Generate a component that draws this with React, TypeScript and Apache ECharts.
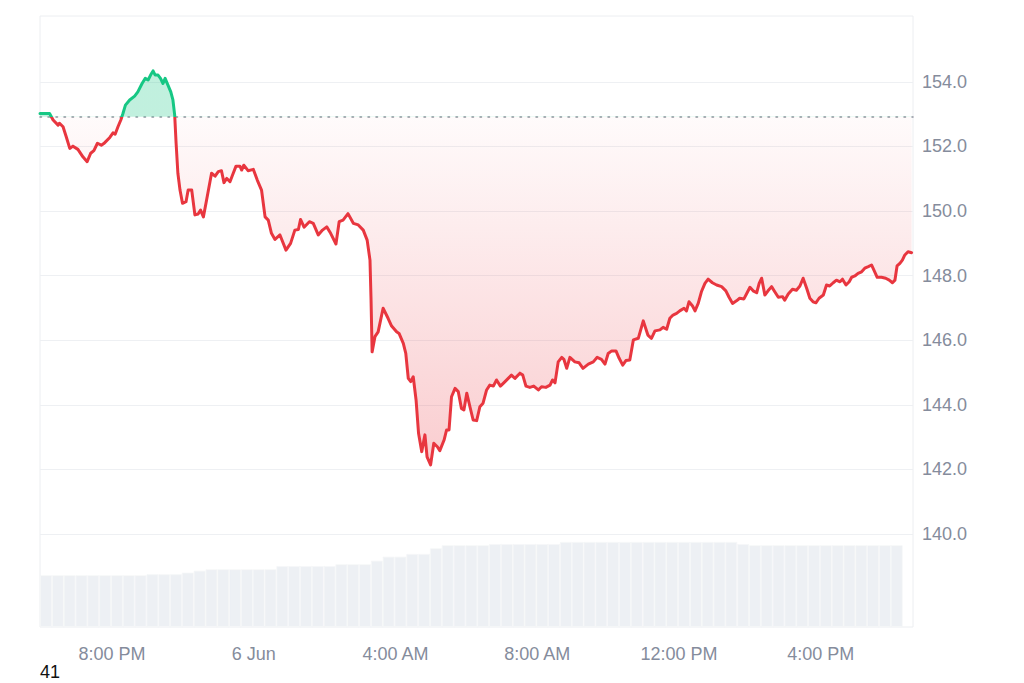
import React, { useEffect, useRef } from 'react';
import * as echarts from 'echarts';

// ---- data ----
const BASELINE = 152.92; // previous close (dotted line)
const X_MIN = 17.97; // hours since 5 Jun 00:00
const X_MAX = 42.6;
const Y_MIN = 137.12;
const Y_MAX = 156.04;

const priceTicks = [140, 142, 144, 146, 148, 150, 152, 154];
const timeTicks = [20, 24, 28, 32, 36, 40];
const timeTickLabels = ['8:00 PM', '6 Jun', '4:00 AM', '8:00 AM', '12:00 PM', '4:00 PM'];

// time of each price point, hours since 5 Jun 00:00
const times = [
  17.97, 18.24, 18.34, 18.48, 18.52, 18.62, 18.71, 18.81, 18.9, 19.04,
  19.18, 19.3, 19.4, 19.49, 19.59, 19.7, 19.79, 19.94, 20.03, 20.09,
  20.17, 20.25, 20.31, 20.38, 20.5, 20.64, 20.73, 20.85, 20.94, 21.02,
  21.09, 21.16, 21.22, 21.3, 21.37, 21.44, 21.5, 21.58, 21.66, 21.72,
  21.77, 21.81, 21.86, 21.92, 21.99, 22.09, 22.15, 22.25, 22.34, 22.43,
  22.5, 22.58, 22.67, 22.81, 22.91, 23.0, 23.09, 23.16, 23.24, 23.33,
  23.4, 23.5, 23.61, 23.66, 23.72, 23.84, 23.99, 24.1, 24.22, 24.32,
  24.41, 24.5, 24.6, 24.74, 24.91, 25.04, 25.16, 25.26, 25.32, 25.42,
  25.57, 25.68, 25.82, 25.94, 26.06, 26.17, 26.32, 26.41, 26.52, 26.66,
  26.81, 26.95, 27.09, 27.2, 27.28, 27.31, 27.34, 27.42, 27.51, 27.65,
  27.79, 27.89, 28.03, 28.1, 28.22, 28.29, 28.36, 28.43, 28.5, 28.58,
  28.65, 28.74, 28.83, 28.89, 28.99, 29.08, 29.18, 29.25, 29.37, 29.44,
  29.51, 29.58, 29.68, 29.77, 29.86, 29.93, 30.01, 30.1, 30.19, 30.29,
  30.38, 30.47, 30.57, 30.66, 30.76, 30.85, 30.96, 31.09, 31.18, 31.27,
  31.37, 31.51, 31.59, 31.68, 31.79, 31.9, 32.03, 32.12, 32.24, 32.36,
  32.43, 32.5, 32.59, 32.69, 32.75, 32.83, 32.92, 33.06, 33.18, 33.29,
  33.44, 33.58, 33.69, 33.81, 33.91, 34.0, 34.1, 34.22, 34.31, 34.41,
  34.5, 34.61, 34.71, 34.85, 34.99, 35.12, 35.22, 35.32, 35.46, 35.55,
  35.65, 35.74, 35.83, 35.93, 36.02, 36.14, 36.21, 36.28, 36.38, 36.45,
  36.54, 36.63, 36.73, 36.82, 36.94, 37.06, 37.2, 37.32, 37.41, 37.51,
  37.62, 37.71, 37.83, 37.92, 38.0, 38.09, 38.19, 38.26, 38.33, 38.42,
  38.51, 38.61, 38.7, 38.8, 38.92, 38.98, 39.08, 39.2, 39.31, 39.41,
  39.5, 39.6, 39.69, 39.78, 39.86, 39.95, 40.07, 40.16, 40.25, 40.35,
  40.44, 40.54, 40.61, 40.71, 40.8, 40.87, 40.96, 41.05, 41.15, 41.24,
  41.34, 41.43, 41.52, 41.59, 41.71, 41.83, 41.93, 42.02, 42.09, 42.15,
  42.23, 42.3, 42.37, 42.46, 42.56,
];

const prices = [
  153.02, 153.02, 152.82, 152.66, 152.72, 152.61, 152.3, 151.94, 152.01, 151.91,
  151.68, 151.53, 151.79, 151.87, 152.1, 152.04, 152.11, 152.28, 152.42, 152.38,
  152.61, 152.82, 153.02, 153.28, 153.44, 153.56, 153.69, 153.95, 154.11, 154.06,
  154.21, 154.34, 154.21, 154.21, 154.11, 153.95, 154.11, 153.9, 153.69, 153.44,
  152.97, 152.1, 151.17, 150.65, 150.24, 150.29, 150.65, 150.65, 149.88, 149.91,
  150.03, 149.82, 150.34, 151.17, 151.08, 151.22, 151.25, 150.88, 151.01, 150.91,
  151.11, 151.39, 151.39, 151.27, 151.42, 151.25, 151.29, 150.96, 150.65, 149.82,
  149.72, 149.31, 149.12, 149.26, 148.79, 149.0, 149.41, 149.43, 149.74, 149.5,
  149.67, 149.62, 149.26, 149.41, 149.51, 149.31, 148.98, 149.67, 149.72, 149.92,
  149.62, 149.57, 149.41, 149.1, 148.48, 147.24, 145.64, 146.11, 146.26, 146.99,
  146.68, 146.44, 146.26, 146.21, 145.9, 145.59, 144.82, 144.72, 144.87, 144.15,
  143.12, 142.55, 143.07, 142.39, 142.14, 142.81, 142.7, 142.58, 142.91, 143.22,
  143.22, 144.25, 144.51, 144.41, 143.89, 143.84, 144.36, 143.94, 143.53, 143.51,
  143.94, 144.05, 144.46, 144.61, 144.58, 144.77, 144.58, 144.72, 144.82, 144.92,
  144.82, 144.98, 144.92, 144.58, 144.54, 144.58, 144.46, 144.56, 144.54, 144.61,
  144.77, 144.68, 145.33, 145.47, 145.41, 145.13, 145.47, 145.33, 145.3, 145.13,
  145.26, 145.33, 145.47, 145.41, 145.26, 145.59, 145.67, 145.67, 145.44, 145.23,
  145.37, 145.39, 146.01, 146.06, 146.6, 146.16, 146.06, 146.29, 146.32, 146.4,
  146.34, 146.68, 146.78, 146.83, 146.91, 146.99, 146.91, 147.19, 147.06, 146.91,
  147.14, 147.5, 147.76, 147.89, 147.78, 147.71, 147.66, 147.53, 147.33, 147.14,
  147.22, 147.3, 147.28, 147.47, 147.64, 147.53, 147.47, 147.76, 147.92, 147.4,
  147.53, 147.66, 147.5, 147.33, 147.35, 147.24, 147.43, 147.58, 147.55, 147.68,
  147.92, 147.61, 147.3, 147.19, 147.16, 147.3, 147.4, 147.71, 147.68, 147.78,
  147.86, 147.81, 147.89, 147.71, 147.81, 147.95, 147.99, 148.07, 148.12, 148.23,
  148.28, 148.33, 148.12, 147.95, 147.95, 147.92, 147.86, 147.78, 147.86, 148.3,
  148.38, 148.48, 148.64, 148.74, 148.71,
];

// volume bars, one every 20 minutes (bar centres, hours since 5 Jun 00:00)
const VOL_START = 18.14;
const VOL_STEP = 1 / 3;
const volumes = [
  8.46, 8.46, 8.46, 8.46, 8.46, 8.46, 8.46, 8.46, 8.46,
  8.63, 8.63, 8.63,
  8.89, 9.21,
  9.44, 9.44, 9.44, 9.44, 9.44, 9.44,
  9.98, 9.98, 9.98, 9.98, 9.98,
  10.26, 10.26, 10.26,
  10.85, 11.51, 11.51, 11.95, 11.95, 12.88,
  13.37, 13.37, 13.37, 13.37,
  13.58, 13.58, 13.58, 13.58, 13.58, 13.58,
  13.91, 13.91, 13.91, 13.91, 13.91, 13.91, 13.91, 13.91, 13.91, 13.91,
  13.91, 13.91, 13.91, 13.91, 13.91,
  13.58,
  13.37, 13.37, 13.37, 13.37, 13.37, 13.37, 13.37, 13.37, 13.37, 13.37,
  13.37, 13.37, 13.37,
];
const VOL_MAX = 100;

const RED = '#e8363f';
const GREEN = '#16c784';
const GRAY = '#858c9c';
const FONT = '"Liberation Sans", Arial, sans-serif';

export default function App() {
  const ref = useRef<HTMLDivElement>(null);

  useEffect(() => {
    if (!ref.current) return;
    const chart = echarts.init(ref.current, null, { renderer: 'svg' });

    // position of the baseline inside the vertical extent of the line / area
    const maxP = Math.max(...prices, BASELINE);
    const minP = Math.min(...prices, BASELINE);
    const f = (maxP - BASELINE) / (maxP - minP);

    const lineGradient = new echarts.graphic.LinearGradient(0, 0, 0, 1, [
      { offset: 0, color: GREEN },
      { offset: f, color: GREEN },
      { offset: f, color: RED },
      { offset: 1, color: RED },
    ]);
    const areaGradient = new echarts.graphic.LinearGradient(0, 0, 0, 1, [
      { offset: 0, color: 'rgba(22,199,132,0.38)' },
      { offset: f, color: 'rgba(22,199,132,0.38)' },
      { offset: f, color: 'rgba(234,57,67,0.03)' },
      { offset: 1, color: 'rgba(234,57,67,0.36)' },
    ]);

    const priceData = times.map((t, i) => [t, prices[i]]);
    const volData = volumes.map((v, i) => [VOL_START + i * VOL_STEP, v]);

    const labelStyle = { color: GRAY, fontSize: 18, fontFamily: FONT };

    // horizontal grid lines with the price labels at their right end
    const gridLines = priceTicks.map((p) => ({
      yAxis: p,
      lineStyle: { color: '#eef0f3', width: 1, type: 'solid' },
      label: {
        show: true,
        position: 'end',
        distance: 9,
        formatter: () => p.toFixed(1),
        ...labelStyle,
      },
    }));

    // transparent vertical lines carrying the time labels below the plot
    const timeMarks = timeTicks.map((t, i) => ({
      xAxis: t,
      lineStyle: { color: 'rgba(0,0,0,0)', width: 1, type: 'solid' },
      label: {
        show: true,
        position: 'start',
        distance: 18,
        formatter: () => timeTickLabels[i],
        ...labelStyle,
      },
    }));

    chart.setOption({
      animation: false,
      grid: {
        left: 40,
        top: 16,
        width: 873,
        height: 611,
        show: true,
        borderColor: '#eceef1',
        borderWidth: 1,
        backgroundColor: 'transparent',
      },
      xAxis: {
        type: 'value',
        min: X_MIN,
        max: X_MAX,
        axisLine: { show: false },
        axisTick: { show: false },
        splitLine: { show: false },
        axisLabel: { show: false },
      },
      yAxis: [
        {
          type: 'value',
          position: 'right',
          min: Y_MIN,
          max: Y_MAX,
          axisLine: { show: false },
          axisTick: { show: false },
          splitLine: { show: false },
          axisLabel: { show: false },
        },
        { type: 'value', min: 0, max: VOL_MAX, show: false },
      ],
      series: [
        {
          type: 'bar',
          xAxisIndex: 0,
          yAxisIndex: 1,
          data: volData,
          barWidth: '100%',
          clip: true,
          itemStyle: { color: '#edf0f4', borderColor: '#f5f6f8', borderWidth: 0.8 },
          silent: true,
          z: 1,
        },
        {
          type: 'line',
          xAxisIndex: 0,
          yAxisIndex: 0,
          data: priceData,
          symbol: 'none',
          smooth: false,
          lineStyle: { width: 3, color: lineGradient, join: 'round', cap: 'round' },
          areaStyle: { origin: BASELINE, color: areaGradient },
          z: 3,
          markLine: {
            silent: true,
            symbol: 'none',
            z: 2,
            animation: false,
            data: [
              ...gridLines,
              ...timeMarks,
              {
                yAxis: BASELINE,
                lineStyle: { color: '#8e949e', width: 1.5, type: [1.5, 6.5], cap: 'round' },
                label: { show: false },
              },
            ],
          },
        },
      ],
      graphic: [
        {
          type: 'text',
          left: 40,
          top: 663,
          style: { text: '41', fill: '#111', fontSize: 18, fontFamily: FONT },
        },
      ],
    });

    return () => chart.dispose();
  }, []);

  return (
    <div
      ref={ref}
      style={{ position: 'fixed', left: 0, top: 0, width: '1024px', height: '683px', background: '#fff' }}
    />
  );
}
